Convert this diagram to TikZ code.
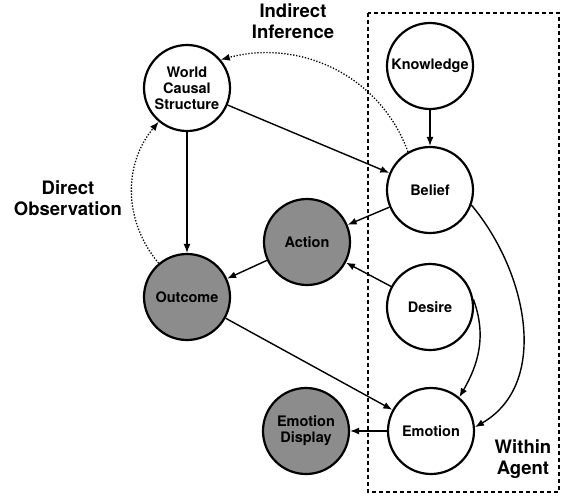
\documentclass[tikz,border=0pt]{standalone}
\usepackage{fontspec}
\setmainfont{TeX Gyre Heros}
\usepackage{tikz}
\usetikzlibrary{arrows.meta}
\definecolor{observed}{rgb}{0.55, 0.55, 0.55}
\tikzset{
    state/.style={
        circle, draw, line width = 2.2pt,
        minimum size = 86pt, inner sep = 0pt,
        align = center,
        font = \fontsize{14.5}{16}\selectfont\bfseries
    },
    hidden/.style = {state, fill = white},
    shown/.style = {state, fill = observed},
    line/.style = {-{Latex[length=9pt,width=7pt]}, line width = 1.4pt},
    infer/.style = {line, line width = 1.3pt, dash pattern = on 1.3pt off 1.7pt},
    caption/.style = {align = center, font = \fontsize{18.5}{21}\selectfont\bfseries}
}

\begin{document}
\begin{tikzpicture}[x=1pt, y=-1pt]

    \useasboundingbox (0,0) rectangle (562,496);

    % Within agent box
    \draw[dashed, line width = 1.1pt, dash pattern = on 4pt off 3pt] (368,13) rectangle (559,492);

    % States
    \node[hidden] (world) at (187,88) {World\\Causal\\Structure};
    \node[hidden] (knowledge) at (430,66) {Knowledge};
    \node[hidden] (belief) at (430,190) {Belief};
    \node[shown] (action) at (307,242) {Action};
    \node[shown] (outcome) at (187,297) {Outcome};
    \node[hidden] (desire) at (430,307) {Desire};
    \node[hidden] (emotion) at (431,431) {Emotion};
    \node[shown] (display) at (306,431) {Emotion\\Display};

    % Links
    \draw[line] (world) -- (belief);
    \draw[line] (world) -- (outcome);
    \draw[line] (knowledge) -- (belief);
    \draw[line] (belief) -- (action);
    \draw[line] (action) -- (outcome);
    \draw[line] (desire) -- (action);
    \draw[line] (outcome) -- (emotion);
    \draw[line] (emotion) -- (display);
    \draw[line] (desire.10) to[out=-70, in=60] (emotion.50);
    \draw[line] (belief.-20) to[out=-50, in=30] (emotion.5);

    % Inference paths
    \draw[infer] (belief.120) to[out=110, in=15] (world.40);
    \draw[infer] (outcome.130) to[out=130, in=-130] (world.-130);

    % Labels
    \node[caption] (indirect) at (293,21) {Indirect\\Inference};
    \node[caption] (direct) at (68,198) {Direct\\Observation};
    \node[caption] (agent) at (523,459) {Within\\Agent};

\end{tikzpicture}
\end{document}
